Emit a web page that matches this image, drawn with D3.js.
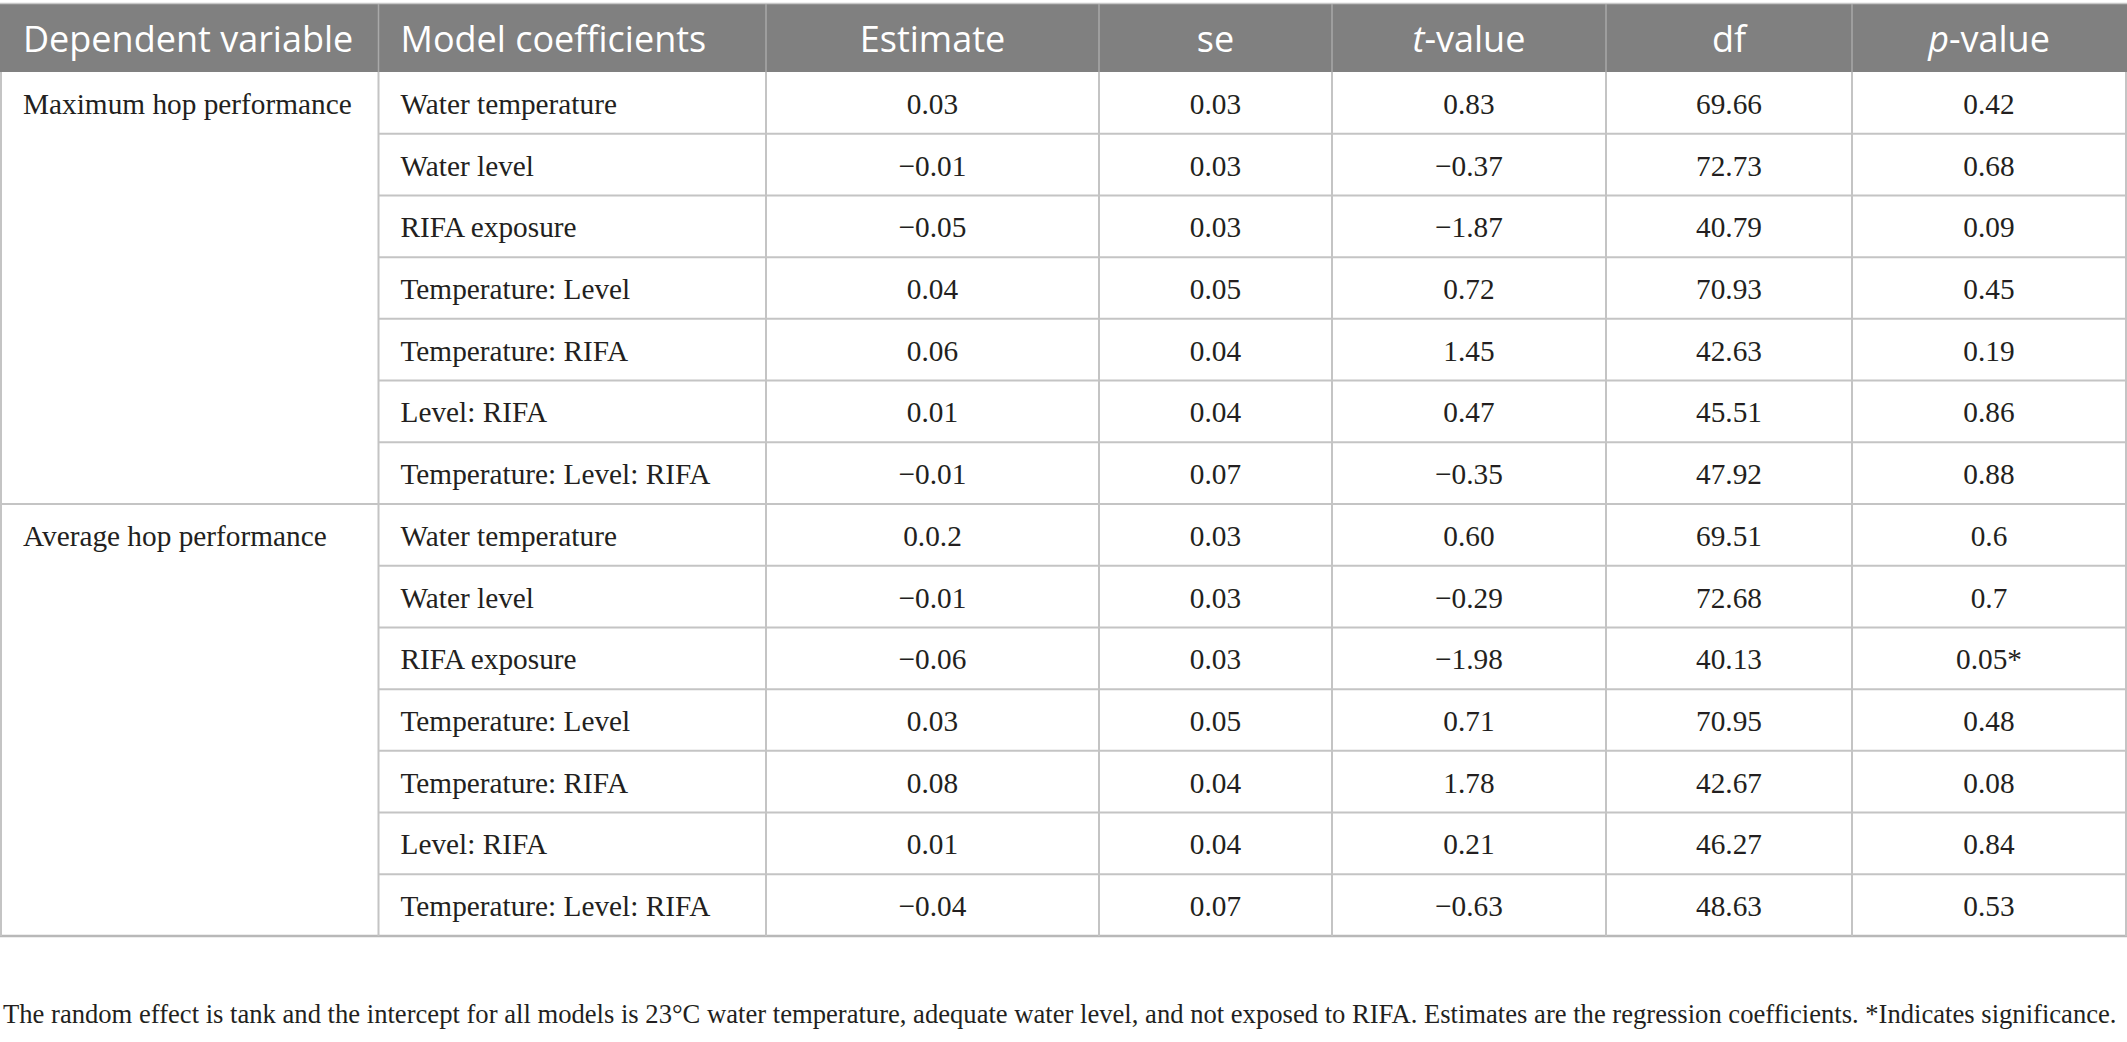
<!DOCTYPE html>
<html>
<head>
<meta charset="utf-8">
<script src="https://cdn.jsdelivr.net/npm/d3@7"></script>
<style>
  html, body { margin: 0; padding: 0; background: #fff; }
  svg { display: block; }
</style>
</head>
<body>
<svg id="chart" width="2127" height="1042"></svg>
<script>
// ---------- data ----------
const headers = ["Dependent variable", "Model coefficients", "Estimate", "se", "t-value", "df", "p-value"];
const groups = ["Maximum hop performance", "Average hop performance"];
const coefficients = ["Water temperature", "Water level", "RIFA exposure", "Temperature: Level", "Temperature: RIFA", "Level: RIFA", "Temperature: Level: RIFA"];
const estimateMax = ["0.03", "\u22120.01", "\u22120.05", "0.04", "0.06", "0.01", "\u22120.01"];
const seMax       = ["0.03", "0.03", "0.03", "0.05", "0.04", "0.04", "0.07"];
const tMax        = ["0.83", "\u22120.37", "\u22121.87", "0.72", "1.45", "0.47", "\u22120.35"];
const dfMax       = ["69.66", "72.73", "40.79", "70.93", "42.63", "45.51", "47.92"];
const pMax        = ["0.42", "0.68", "0.09", "0.45", "0.19", "0.86", "0.88"];
const estimateAvg = ["0.0.2", "\u22120.01", "\u22120.06", "0.03", "0.08", "0.01", "\u22120.04"];
const seAvg       = ["0.03", "0.03", "0.03", "0.05", "0.04", "0.04", "0.07"];
const tAvg        = ["0.60", "\u22120.29", "\u22121.98", "0.71", "1.78", "0.21", "\u22120.63"];
const dfAvg       = ["69.51", "72.68", "40.13", "70.95", "42.67", "46.27", "48.63"];
const pAvg        = ["0.6", "0.7", "0.05*", "0.48", "0.08", "0.84", "0.53"];
const footnote = "The random effect is tank and the intercept for all models is 23\u00B0C water temperature, adequate water level, and not exposed to RIFA. Estimates are the regression coefficients. *Indicates significance.";

// ---------- build rows ----------
const numCols = [[estimateMax, seMax, tMax, dfMax, pMax], [estimateAvg, seAvg, tAvg, dfAvg, pAvg]];
const rows = [];
groups.forEach((g, gi) => {
  coefficients.forEach((c, ci) => {
    rows.push({ group: g, gi, ci, cells: [ci === 0 ? g : "", c].concat(numCols[gi].map(col => col[ci])) });
  });
});

// ---------- layout ----------
const W = 2127;
const colEdges = [0, 378.5, 766, 1099, 1332, 1606, 1852, 2126];
const headTop = 4, headBottom = 72, tableBottom = 936;
const serif = "'Liberation Serif', 'Times New Roman', serif";
const sans = "'Open Sans', 'Noto Sans', sans-serif";
const lineColor = "#c4c4c4";
const textColor = "#231f20";

const svg = d3.select("#chart");
svg.append("rect").attr("width", W).attr("height", 1042).attr("fill", "#fff");

const y = d3.scaleBand().domain(d3.range(rows.length)).range([headBottom, tableBottom]).padding(0);
const colScale = d3.scaleOrdinal().domain(d3.range(headers.length)).range(colEdges.slice(0, -1));
const colW = i => colEdges[i + 1] - colEdges[i];
const textX = i => (i < 2 ? colScale(i) + (i === 0 ? 23 : 22) : colScale(i) + colW(i) / 2);
const anchor = i => (i < 2 ? "start" : "middle");

// header
svg.append("rect").attr("x", 0).attr("y", headTop).attr("width", W).attr("height", headBottom - headTop)
  .attr("fill", "#808080");
svg.append("line").attr("x1", 0).attr("x2", W).attr("y1", headTop - 0.5).attr("y2", headTop - 0.5)
  .attr("stroke", "#c8c8c8").attr("stroke-width", 1.5);
svg.selectAll(".hsep").data(d3.range(1, headers.length)).join("line")
  .attr("x1", i => colScale(i)).attr("x2", i => colScale(i))
  .attr("y1", headTop).attr("y2", headBottom)
  .attr("stroke", "#a9a9a9").attr("stroke-width", 1.5);

const ht = svg.selectAll(".htext").data(headers).join("text")
  .attr("x", (d, i) => textX(i)).attr("y", 52)
  .attr("text-anchor", (d, i) => anchor(i))
  .attr("font-family", sans).attr("font-size", 36).attr("fill", "#fff");
ht.each(function (d) {
  const t = d3.select(this);
  if (d === "t-value" || d === "p-value") {
    t.append("tspan").attr("font-style", "italic").text(d[0]);
    t.append("tspan").text(d.slice(1));
  } else t.text(d);
});

// grid lines: horizontal
svg.selectAll(".hline").data(d3.range(1, rows.length)).join("line")
  .attr("x1", i => (rows[i].ci === 0 ? 0 : colEdges[1])).attr("x2", W)
  .attr("y1", i => y(i)).attr("y2", i => y(i))
  .attr("stroke", lineColor).attr("stroke-width", 2);
svg.append("line").attr("x1", 0).attr("x2", W).attr("y1", tableBottom).attr("y2", tableBottom)
  .attr("stroke", "#b8b8b8").attr("stroke-width", 2.5);
// vertical
svg.selectAll(".vline").data(colEdges).join("line")
  .attr("x1", (d, i) => (i === 0 ? 1 : i === colEdges.length - 1 ? W - 1 : d))
  .attr("x2", (d, i) => (i === 0 ? 1 : i === colEdges.length - 1 ? W - 1 : d))
  .attr("y1", headBottom).attr("y2", tableBottom)
  .attr("stroke", lineColor).attr("stroke-width", 2);

// body cells
const rowG = svg.selectAll(".row").data(rows).join("g")
  .attr("transform", (d, i) => `translate(0,${y(i) + y.bandwidth() / 2 + 11})`);
rowG.selectAll("text").data(d => d.cells).join("text")
  .attr("x", (d, i) => textX(i)).attr("y", 0)
  .attr("text-anchor", (d, i) => anchor(i))
  .attr("font-family", serif).attr("font-size", 29.3).attr("fill", textColor)
  .text(d => d);

// footnote: size chosen so its natural width fits the reference span
const fn = svg.append("text").attr("x", 3).attr("y", 1023)
  .attr("font-family", serif).attr("font-size", 28).attr("fill", textColor)
  .text(footnote);
const natural = fn.node().getComputedTextLength();
fn.attr("font-size", Math.min(30, 28 * 2115 / natural));
</script>
</body>
</html>
